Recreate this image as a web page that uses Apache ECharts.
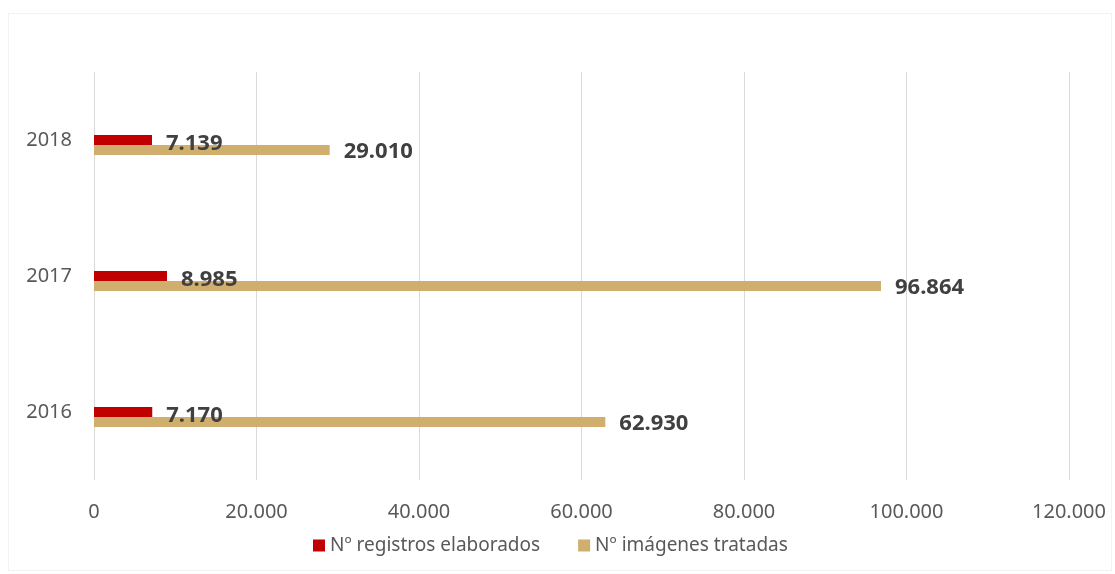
<!DOCTYPE html>
<html>
<head>
<meta charset="utf-8">
<script src="https://cdn.jsdelivr.net/npm/echarts@6/dist/echarts.min.js"></script>
<style>
  html, body { margin: 0; padding: 0; background: #fff; }
  #frame { position: absolute; left: 8px; top: 13px; width: 1102px; height: 556px; border: 1px solid #f0f3f7; }
  #main { position: absolute; left: 0; top: 0; width: 1115px; height: 574px; }
</style>
</head>
<body>
<div id="frame"></div>
<div id="main"></div>
<script>
// datos
var years = ['2016', '2017', '2018'];
var registros = [7170, 8985, 7139];
var imagenes = [62930, 96864, 29010];
var empty = ['-', '-', '-'];

function fmt_num(v){
    return String(v).replace(/\B(?=(\d{3})+(?!\d))/g, '.');
}

var chart = echarts.init(document.getElementById('main'));

function label_style(dy){
    return {
        show: true,
        position: 'right',
        distance: 14,
        offset: [0, dy],
        fontFamily: 'Noto Sans',
        fontSize: 22,
        fontWeight: 'bold',
        color: '#404040',
        formatter: function (p) { return fmt_num(p.value); }
    };
}

var option = {
    animation: false,
    legend: {
        data: ['Nº registros elaborados', 'Nº imágenes tratadas'],
        left: 308,
        top: 531,
        itemWidth: 12,
        itemHeight: 12,
        itemGap: 38,
        icon: 'rect',
        textStyle: { fontFamily: 'Noto Sans', fontSize: 19, color: '#595959' }
    },
    grid: { left: 94, right: 46, top: 72, bottom: 94 },
    xAxis: {
        type: 'value',
        min: 0,
        max: 120000,
        interval: 20000,
        axisLine: { show: false },
        axisTick: { show: false },
        splitLine: { lineStyle: { color: '#d9d9d9', width: 1 } },
        axisLabel: {
            margin: 22,
            fontFamily: 'Noto Sans',
            fontSize: 20,
            color: '#595959',
            formatter: function (v) { return fmt_num(v); }
        }
    },
    yAxis: {
        type: 'category',
        data: years,
        axisLine: { show: false },
        axisTick: { show: false },
        axisLabel: {
            margin: 22,
            fontFamily: 'Noto Sans',
            fontSize: 20,
            color: '#595959'
        }
    },
    series: [
        {
            // hueco vacio para desplazar las barras como en el original
            name: ' ',
            type: 'bar',
            barWidth: 10,
            barGap: '0%',
            data: empty
        },
        {
            name: 'Nº registros elaborados',
            type: 'bar',
            barWidth: 10,
            barGap: '0%',
            itemStyle: { color: '#c00000' },
            label: label_style(4),
            data: registros
        },
        {
            name: 'Nº imágenes tratadas',
            type: 'bar',
            barWidth: 10,
            barGap: '0%',
            itemStyle: { color: '#cfae6e' },
            label: label_style(2),
            data: imagenes
        }
    ]
};

chart.setOption(option);
</script>
</body>
</html>
